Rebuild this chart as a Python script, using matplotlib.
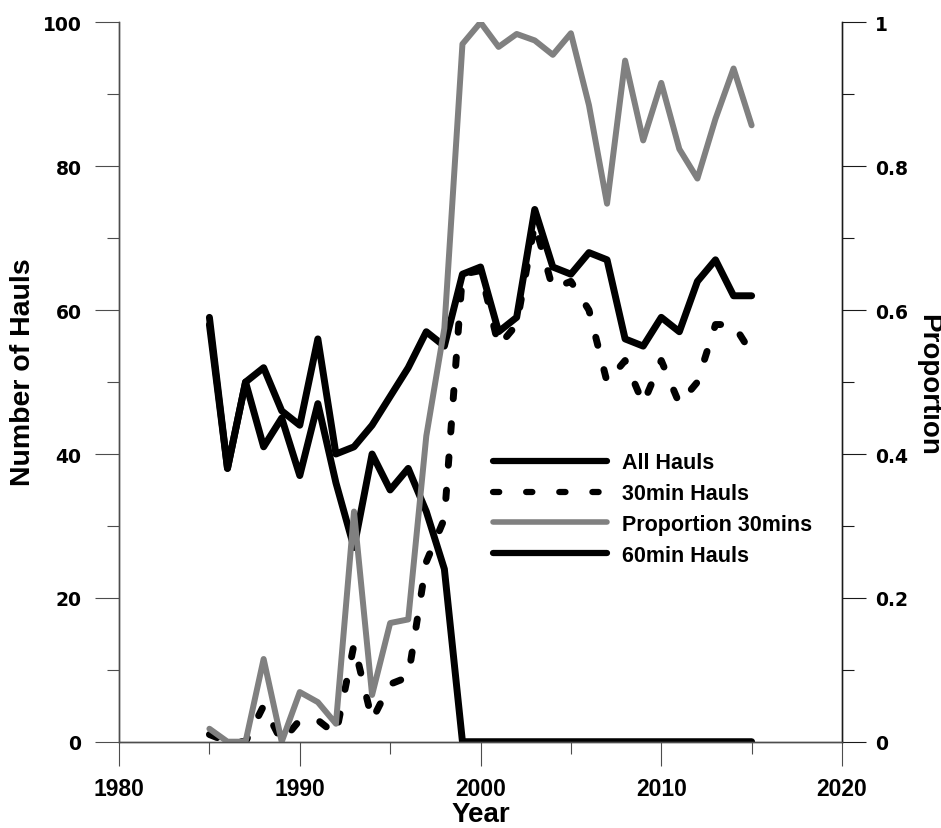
import numpy as np
import matplotlib
matplotlib.use('Agg')
import matplotlib.pyplot as plt
from matplotlib.lines import Line2D
from matplotlib.ticker import MultipleLocator, FixedFormatter, FixedLocator

# Haul counts per survey year
years = list(range(1985, 2016))

all_hauls = [59, 38, 50, 52, 46, 44, 56, 40, 41, 44, 48, 52, 57, 55, 65, 66,
             57, 59, 74, 66, 65, 68, 67, 56, 55, 59, 57, 64, 67, 62, 62]

hauls_30 = [1, 0, 0, 5, 0, 3, 3, 1, 13.5, 3, 8, 9, 25, 31, 65, 65.5,
            55, 58, 72, 63, 64, 60, 50, 53, 47, 53, 47, 50, 58, 58, 54]

hauls_60 = [58, 38, 50, 41, 45, 37, 47, 36, 27, 40, 35, 38, 32, 24, 0, 0,
            0, 0, 0, 0, 0, 0, 0, 0, 0, 0, 0, 0, 0, 0, 0]

# share of 30 minute hauls
prop_30 = [0.018, 0, 0, 0.115, 0, 0.069, 0.055, 0.025, 0.32, 0.065, 0.165,
           0.17, 0.425, 0.575, 0.97, 1.0, 0.966, 0.984, 0.975, 0.955, 0.985,
           0.885, 0.748, 0.947, 0.836, 0.916, 0.824, 0.783, 0.866, 0.936, 0.857]

left_ticks = [0, 20, 40, 60, 80, 100]
right_ticks = [0, 0.2, 0.4, 0.6, 0.8, 1]
right_labels = ['0', '0.2', '0.4', '0.6', '0.8', '1']
x_ticks = [1980, 1990, 2000, 2010, 2020]

GREY = '#808080'
AXC = '#4d4d4d'
LW = 5
DASH = (1.2, 3.6)

fig = plt.figure(figsize=(9.41, 8.29), dpi=100)
ax = fig.add_axes([0.1265, 0.1041, 0.7683, 0.8676])
ax2 = ax.twinx()

ax.plot(years, all_hauls, color='black', lw=LW, solid_capstyle='round', solid_joinstyle='round')
ax.plot(years, hauls_60, color='black', lw=LW, solid_capstyle='round', solid_joinstyle='round')
ax.plot(years, hauls_30, color='black', lw=LW, dashes=DASH, dash_capstyle='round',
        dash_joinstyle='round')
ax2.plot(years, prop_30, color=GREY, lw=4.3, solid_capstyle='round', solid_joinstyle='round')

ax.set_xlim(1980, 2020)
ax.set_ylim(0, 100)
ax2.set_ylim(0, 1)

ax.xaxis.set_major_locator(FixedLocator(x_ticks))
ax.xaxis.set_minor_locator(MultipleLocator(5))
ax.yaxis.set_major_locator(FixedLocator(left_ticks))
ax.yaxis.set_minor_locator(MultipleLocator(10))
ax2.yaxis.set_major_locator(FixedLocator(right_ticks))
ax2.yaxis.set_major_formatter(FixedFormatter(right_labels))
ax2.yaxis.set_minor_locator(MultipleLocator(0.1))

for a in (ax, ax2):
    a.spines['top'].set_visible(False)
    for s in a.spines.values():
        s.set_color(AXC)
        s.set_linewidth(1.0)
ax2.spines['right'].set_color('#1a1a1a')

ax.tick_params(axis='x', which='major', length=17, width=0.8, color=AXC, direction='out', pad=8.5)
ax.tick_params(axis='x', which='minor', length=8.5, width=0.8, color=AXC, direction='out')
ax.tick_params(axis='y', which='major', length=17, width=0.8, color=AXC, direction='out', pad=10)
ax.tick_params(axis='y', which='minor', length=8.5, width=0.8, color=AXC, direction='out')
ax2.tick_params(axis='y', which='major', length=17, width=0.8, color='#1a1a1a', direction='out', pad=7)
ax2.tick_params(axis='y', which='minor', length=8.5, width=0.8, color='#1a1a1a', direction='out')

for lab in ax.get_xticklabels():
    lab.set_fontfamily('Liberation Sans')
    lab.set_fontweight('bold')
    lab.set_fontsize(16.5)
for lab in ax.get_yticklabels() + ax2.get_yticklabels():
    lab.set_fontfamily('DejaVu Sans')
    lab.set_fontweight('bold')
    lab.set_fontsize(13.5)

ax.set_xlabel('Year', fontsize=20, fontweight='bold', family='Liberation Sans')
ax.xaxis.set_label_coords(0.5, -0.083)
ax.set_ylabel('Number of Hauls', fontsize=20.5, fontweight='bold', family='Liberation Sans', va='center')
ax.yaxis.set_label_coords(-0.1335, 0.515)
ax2.set_ylabel('Proportion', fontsize=20, fontweight='bold', family='Liberation Sans',
               rotation=270, va='center')
ax2.yaxis.set_label_coords(1.119, 0.497)

handles = [
    Line2D([], [], color='black', lw=4.5, solid_capstyle='round'),
    Line2D([], [], color='black', lw=4.5, dashes=(1.0, 4.3), dash_capstyle='round'),
    Line2D([], [], color=GREY, lw=4.0, solid_capstyle='round'),
    Line2D([], [], color='black', lw=4.5, solid_capstyle='round'),
]
labels = ['All Hauls', '30min Hauls', 'Proportion 30mins', '60min Hauls']
ax2.legend(handles, labels, loc='upper left', bbox_to_anchor=(0.524, 0.453),
           bbox_transform=fig.transFigure, frameon=False, borderpad=0, borderaxespad=0,
           handlelength=5.3, handletextpad=0.7, labelspacing=0.45,
           prop={'family': 'Liberation Sans', 'weight': 'bold', 'size': 15.5})

fig.savefig('out.png', dpi=100)
